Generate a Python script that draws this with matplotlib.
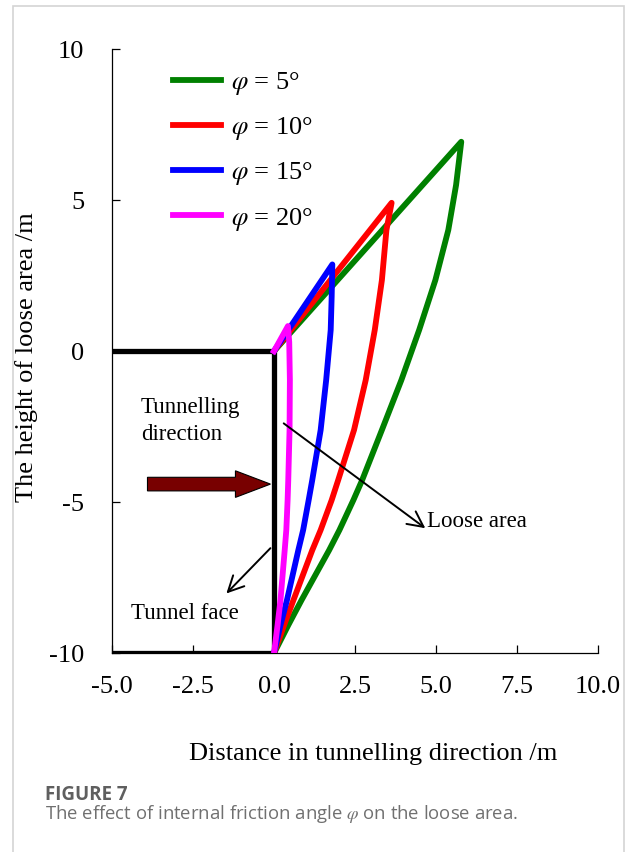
import matplotlib
matplotlib.use("Agg")
import matplotlib.pyplot as plt
from matplotlib.patches import Rectangle

plt.rcParams['font.family'] = ['Liberation Serif', 'DejaVu Serif']
plt.rcParams['mathtext.fontset'] = 'stix'
plt.rcParams['axes.unicode_minus'] = False

# ---- data ----
labels = [r'$\varphi$ = 5°', r'$\varphi$ = 10°', r'$\varphi$ = 15°', r'$\varphi$ = 20°']
colors = ['#008000', '#ff0000', '#0000ff', '#ff00ff']

x_green = [0, 5.78, 5.62, 5.38, 4.98, 4.48, 3.93, 3.33, 2.72, 2.45, 2.02, 1.70, 0.85, 0.44, 0]
y_green = [0, 6.93, 5.50, 4.01, 2.35, 0.70, -0.96, -2.61, -4.27, -4.93, -5.92, -6.59, -8.24, -9.07, -10]

x_red = [0, 3.63, 3.47, 3.33, 3.11, 2.83, 2.47, 1.98, 1.78, 1.44, 1.18, 0.60, 0.31, 0]
y_red = [0, 4.91, 4.01, 2.35, 0.70, -0.96, -2.61, -4.27, -4.93, -5.92, -6.59, -8.24, -9.07, -10]

x_blue = [0, 1.80, 1.78, 1.75, 1.61, 1.44, 1.18, 1.07, 0.90, 0.75, 0.40, 0.20, 0]
y_blue = [0, 2.87, 1.80, 0.70, -0.96, -2.61, -4.27, -4.93, -5.92, -6.59, -8.24, -9.07, -10]

x_mag = [0, 0.43, 0.47, 0.49, 0.48, 0.44, 0.42, 0.38, 0.33, 0.20, 0.11, 0]
y_mag = [0, 0.83, 0.30, -0.96, -2.61, -4.27, -4.93, -5.92, -6.59, -8.24, -9.07, -10]

series_x = [x_green, x_red, x_blue, x_mag]
series_y = [y_green, y_red, y_blue, y_mag]

tunnel_x = [-5, 0, 0, -5]
tunnel_y = [0, 0, -10, -10]

x_ticks = [-5.0, -2.5, 0.0, 2.5, 5.0, 7.5, 10.0]
x_ticklabels = ['-5.0', '-2.5', '0.0', '2.5', '5.0', '7.5', '10.0']
y_ticks = [10, 5, 0, -5, -10]
y_ticklabels = ['10', '5', '0', '-5', '-10']

W, H = 628, 852
fig = plt.figure(figsize=(W / 100, H / 100), dpi=100)
ax = fig.add_axes([112 / W, 1 - 653.3 / H, (598 - 112) / W, (653.3 - 49) / H])

# tunnel outline
ax.plot(tunnel_x, tunnel_y, color='black', lw=3.8, solid_capstyle='butt',
        solid_joinstyle='miter', zorder=2)

for xs, ys, c, lab in zip(series_x, series_y, colors, labels):
    ax.plot(xs, ys, color=c, lw=4.2, label=lab, zorder=3, solid_joinstyle='round')

ax.set_xlim(-5, 10)
ax.set_ylim(-10, 10)
ax.set_xticks(x_ticks)
ax.set_xticklabels(x_ticklabels)
ax.set_yticks(y_ticks)
ax.set_yticklabels(y_ticklabels)
ax.tick_params(direction='in', length=5.5, width=0.9, labelsize=19)
ax.tick_params(axis='y', pad=20)
ax.tick_params(axis='x', pad=16)
for s in ['top', 'right']:
    ax.spines[s].set_visible(False)
for s in ['left', 'bottom']:
    ax.spines[s].set_linewidth(0.9)

# block arrow (tunnelling direction)
ax.arrow(-3.905, -4.40, 3.795, 0, width=0.45, head_width=0.88, head_length=1.08,
         length_includes_head=True, fc='#780000', ec='black', lw=0.8, zorder=4)

# annotations
ax.text(-4.11, -2.94, 'Tunnelling\ndirection', fontsize=16.5, ha='left', va='baseline',
        linespacing=1.4)
ax.text(4.73, -5.82, 'Loose area', fontsize=16.5, ha='left', va='baseline')
ax.text(-4.4, -8.86, 'Tunnel face', fontsize=16.5, ha='left', va='baseline')
ax.annotate('', xy=(4.67, -5.86), xytext=(0.30, -2.39),
            arrowprops=dict(arrowstyle='->', color='black', lw=1.4,
                            mutation_scale=28, shrinkA=0, shrinkB=0))
ax.annotate('', xy=(-1.47, -8.02), xytext=(-0.11, -6.52),
            arrowprops=dict(arrowstyle='->', color='black', lw=1.4,
                            mutation_scale=28, shrinkA=0, shrinkB=0))

leg = ax.legend(loc='upper left', bbox_to_anchor=(173 / W, 1 - 70 / H),
                bbox_transform=fig.transFigure, frameon=False, fontsize=19,
                borderpad=0, borderaxespad=0, handlelength=1.82,
                handletextpad=0.38, labelspacing=0.69)

# axis labels
fig.text(373 / W, 1 - 760 / H, 'Distance in tunnelling direction /m', fontsize=19,
         ha='center', va='baseline')
fig.text(26.7 / W, 1 - 357 / H, 'The height of loose area /m', fontsize=19,
         rotation=90, ha='center', va='center')

# caption
fig.text(45 / W, 1 - 800 / H, 'FIGURE 7', fontsize=13.5, fontweight='bold',
         family=['Open Sans', 'DejaVu Sans'], color='#5f5f5f', ha='left', va='baseline')
fig.text(45 / W, 1 - 819 / H, r'The effect of internal friction angle $\varphi$ on the loose area.',
         fontsize=13.3, family=['Open Sans', 'DejaVu Sans'], color='#707070',
         ha='left', va='baseline')

# page border
fig.patches.append(Rectangle((12.7 / W, -0.1), (624 - 12.7) / W, 1.1 - 5.7 / H,
                             transform=fig.transFigure, fill=False,
                             ec='#d4d4d4', lw=1.2))

fig.savefig('out.png', dpi=100)
